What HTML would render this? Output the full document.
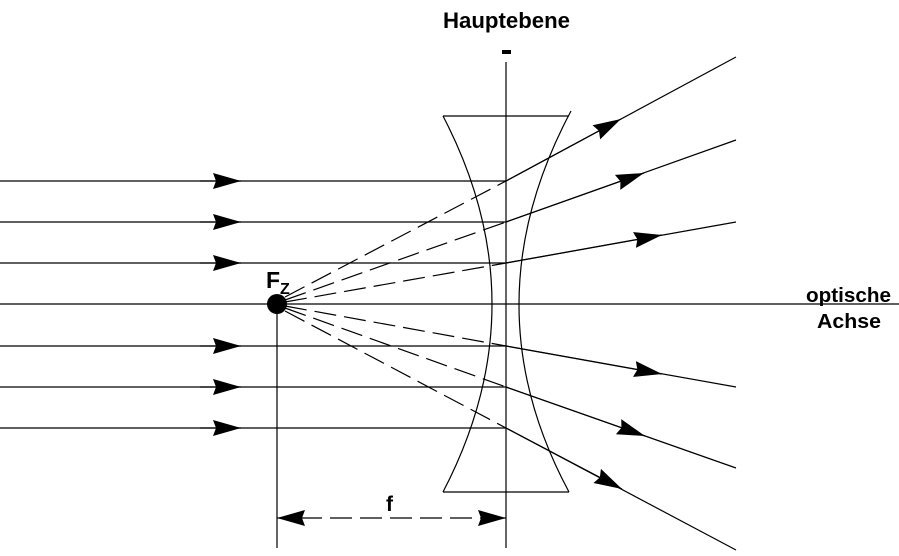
<!DOCTYPE html>
<html><head><meta charset="utf-8"><style>
html,body{margin:0;padding:0;background:#fff;}
svg{display:block;}
text{font-family:"Liberation Sans",Arial,sans-serif;font-weight:bold;fill:#000;}
</style></head><body>
<svg width="899" height="556" viewBox="0 0 899 556" xmlns="http://www.w3.org/2000/svg">
<defs>
<marker id="a" markerUnits="userSpaceOnUse" markerWidth="30" markerHeight="18" refX="28" refY="9" orient="auto">
<path d="M0,1 L28,9 L0,17 L3,9 Z" fill="#000"/>
</marker>
</defs>
<g stroke="#000" stroke-width="1.2" fill="none">
<line x1="0" y1="181" x2="506" y2="181"/>
<line x1="0" y1="222" x2="506" y2="222"/>
<line x1="0" y1="263" x2="506" y2="263"/>
<line x1="0" y1="304" x2="899" y2="304"/>
<line x1="0" y1="346" x2="506" y2="346"/>
<line x1="0" y1="387" x2="506" y2="387"/>
<line x1="0" y1="428" x2="506" y2="428"/>
<line x1="200" y1="181" x2="241" y2="181" marker-end="url(#a)"/>
<line x1="200" y1="222" x2="241" y2="222" marker-end="url(#a)"/>
<line x1="200" y1="263" x2="241" y2="263" marker-end="url(#a)"/>
<line x1="200" y1="346" x2="241" y2="346" marker-end="url(#a)"/>
<line x1="200" y1="387" x2="241" y2="387" marker-end="url(#a)"/>
<line x1="200" y1="428" x2="241" y2="428" marker-end="url(#a)"/>
<line x1="506" y1="62" x2="506" y2="548"/>
<line x1="277" y1="304" x2="277" y2="548"/>
<path d="M443,116 L569,116"/>
<path d="M443,492 L569,492"/>
<path d="M443,116 Q541,304 443,492"/>
<path d="M571,111 Q468,304 569,492"/>
<line x1="506" y1="181" x2="736" y2="57"/>
<line x1="506" y1="222" x2="736" y2="140"/>
<line x1="506" y1="263" x2="736" y2="222"/>
<line x1="506" y1="346" x2="736" y2="387"/>
<line x1="506" y1="387" x2="736" y2="468"/>
<line x1="506" y1="428" x2="736" y2="550"/>
<line x1="506" y1="181" x2="621" y2="119" marker-end="url(#a)"/>
<line x1="506" y1="222" x2="644" y2="173" marker-end="url(#a)"/>
<line x1="506" y1="263" x2="662" y2="235" marker-end="url(#a)"/>
<line x1="506" y1="346" x2="662" y2="374" marker-end="url(#a)"/>
<line x1="506" y1="387" x2="645" y2="436" marker-end="url(#a)"/>
<line x1="506" y1="428" x2="622" y2="489" marker-end="url(#a)"/>
<g stroke-dasharray="22,8">
<line x1="285" y1="297" x2="506" y2="181"/>
<line x1="285" y1="300" x2="506" y2="222"/>
<line x1="285" y1="302" x2="506" y2="263"/>
<line x1="285" y1="306" x2="506" y2="346"/>
<line x1="285" y1="308" x2="506" y2="387"/>
<line x1="285" y1="311" x2="506" y2="428"/>
<line x1="300" y1="518" x2="480" y2="518"/>
</g>
<line x1="300" y1="518" x2="277" y2="518" marker-end="url(#a)"/>
<line x1="480" y1="518" x2="506" y2="518" marker-end="url(#a)"/>
</g>
<circle cx="277" cy="304" r="10" fill="#000"/>
<rect x="502" y="50" width="9" height="4" fill="#000"/>
<text x="443" y="28" font-size="22" textLength="127" lengthAdjust="spacingAndGlyphs">Hauptebene</text>
<text x="266" y="288" font-size="23">F</text>
<text x="280" y="294" font-size="16">Z</text>
<text x="386" y="511" font-size="21">f</text>
<text x="806" y="302" font-size="20.5" textLength="85" lengthAdjust="spacingAndGlyphs">optische</text>
<text x="817" y="328" font-size="20.5" textLength="64" lengthAdjust="spacingAndGlyphs">Achse</text>
</svg>
</body></html>
